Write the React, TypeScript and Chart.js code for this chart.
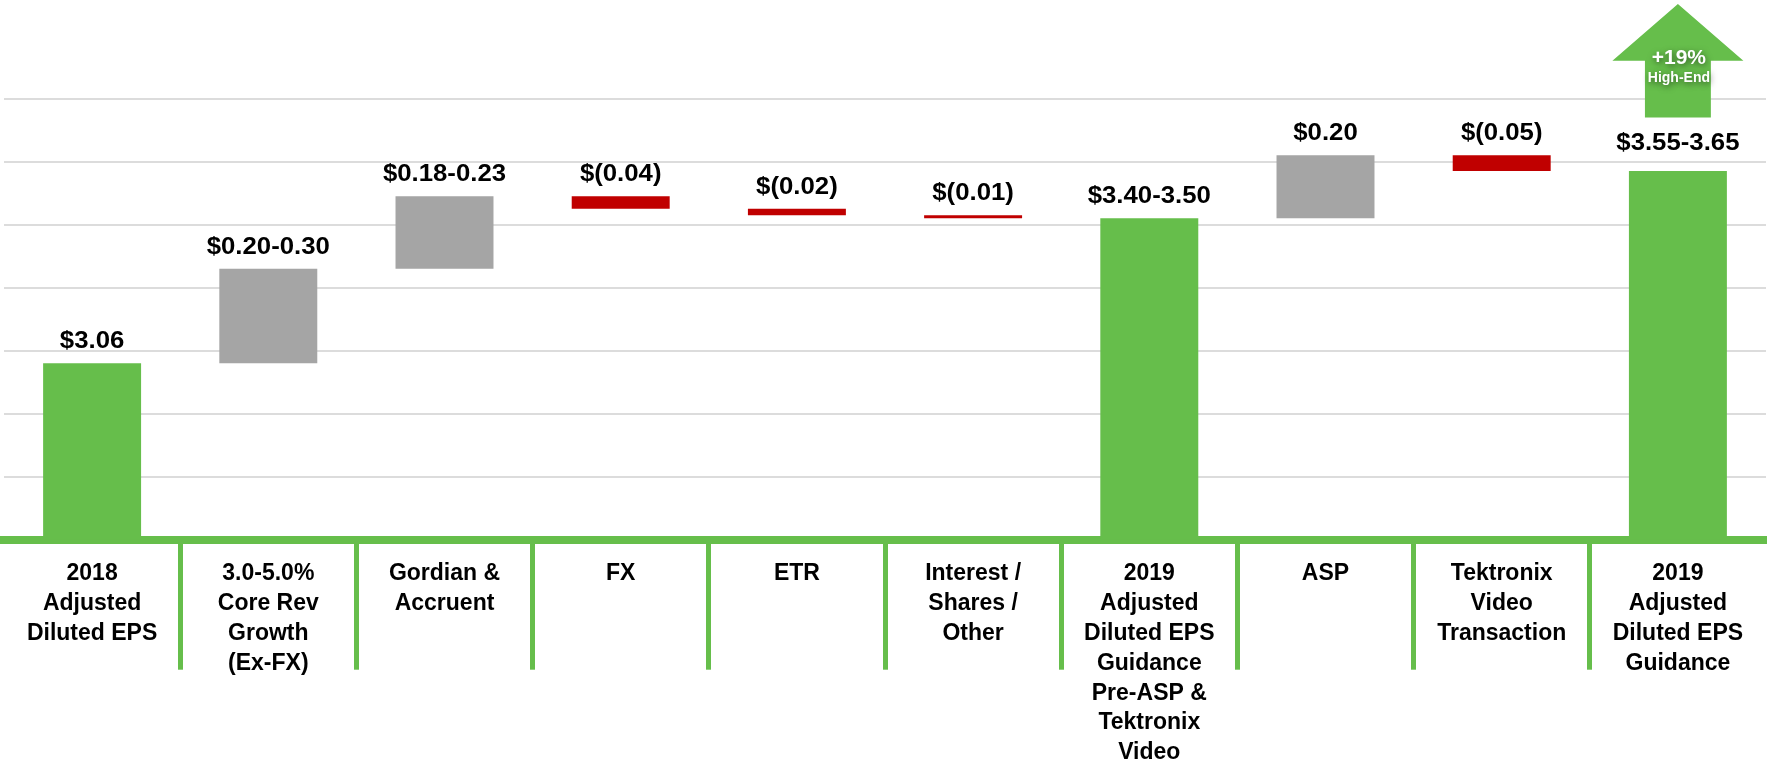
import React, { useEffect, useRef } from "react";
import { Chart, registerables } from "chart.js";

Chart.register(...registerables);

const categories: string[][] = [
  ["2018", "Adjusted", "Diluted EPS"],
  ["3.0-5.0%", "Core Rev", "Growth", "(Ex-FX)"],
  ["Gordian &", "Accruent"],
  ["FX"],
  ["ETR"],
  ["Interest /", "Shares /", "Other"],
  ["2019", "Adjusted", "Diluted EPS", "Guidance", "Pre-ASP &", "Tektronix", "Video"],
  ["ASP"],
  ["Tektronix", "Video", "Transaction"],
  ["2019", "Adjusted", "Diluted EPS", "Guidance"],
];

const barLow = [2.5, 3.06, 3.36, 3.55, 3.53, 3.52, 2.5, 3.52, 3.67, 2.5];
const barHigh = [3.06, 3.36, 3.59, 3.59, 3.55, 3.53, 3.52, 3.72, 3.72, 3.67];
const barKind = ["total", "up", "up", "down", "down", "down", "total", "up", "down", "total"];
const valueLabels = [
  "$3.06",
  "$0.20-0.30",
  "$0.18-0.23",
  "$(0.04)",
  "$(0.02)",
  "$(0.01)",
  "$3.40-3.50",
  "$0.20",
  "$(0.05)",
  "$3.55-3.65",
];
const gridValues = [2.7, 2.9, 3.1, 3.3, 3.5, 3.7, 3.9];
const axisMin = 2.5;
const axisMax = 4.2;
const arrowLines = ["+19%", "High-End"];
const arrowValues = { bottom: 3.84, headBase: 4.02, tip: 4.2 };

const GREEN = "#66BE4B";
const GRAY = "#A5A5A5";
const RED = "#C00000";
const FONT = "'Liberation Sans', Arial, Helvetica, sans-serif";

const kindColor: Record<string, string> = { total: GREEN, up: GRAY, down: RED };

const valueLabelPlugin = {
  id: "valueLabels",
  afterDatasetsDraw(chart: any) {
    const ctx = chart.ctx;
    const meta = chart.getDatasetMeta(0);
    ctx.save();
    ctx.fillStyle = "#000";
    ctx.font = `bold 23px ${FONT}`;
    ctx.textAlign = "center";
    ctx.textBaseline = "alphabetic";
    meta.data.forEach((el: any, i: number) => {
      const top = Math.min(el.y, el.base);
      const gap = i === meta.data.length - 1 ? 21 : 15;
      ctx.save();
      ctx.translate(el.x, top - gap);
      ctx.scale(1.12, 1);
      ctx.fillText(valueLabels[i], 0, 0);
      ctx.restore();
    });
    ctx.restore();
  },
};

const arrowPlugin = {
  id: "arrowNote",
  afterDatasetsDraw(chart: any) {
    const ctx = chart.ctx;
    const meta = chart.getDatasetMeta(0);
    const el: any = meta.data[meta.data.length - 1];
    const y = chart.scales.y;
    const cx = el.x;
    const w = el.width;
    const shaftHalf = (w * 0.673) / 2;
    const headHalf = (w * 1.337) / 2;
    const yb = y.getPixelForValue(arrowValues.bottom);
    const yh = y.getPixelForValue(arrowValues.headBase);
    const yt = y.getPixelForValue(arrowValues.tip);
    ctx.save();
    ctx.fillStyle = GREEN;
    ctx.beginPath();
    ctx.moveTo(cx - shaftHalf, yb);
    ctx.lineTo(cx - shaftHalf, yh);
    ctx.lineTo(cx - headHalf, yh);
    ctx.lineTo(cx, yt);
    ctx.lineTo(cx + headHalf, yh);
    ctx.lineTo(cx + shaftHalf, yh);
    ctx.lineTo(cx + shaftHalf, yb);
    ctx.closePath();
    ctx.fill();

    ctx.fillStyle = "#FFFFFF";
    ctx.textAlign = "center";
    ctx.textBaseline = "alphabetic";
    ctx.shadowColor = "rgba(0,0,0,0.55)";
    ctx.shadowBlur = 6;
    ctx.shadowOffsetX = 1;
    ctx.shadowOffsetY = 2;
    ctx.font = `bold 21px ${FONT}`;
    ctx.fillText(arrowLines[0], cx + 1, yh + 3);
    ctx.font = `bold 14px ${FONT}`;
    ctx.fillText(arrowLines[1], cx + 1, yh + 21);
    ctx.restore();
  },
};

export default function App() {
  const canvasRef = useRef<HTMLCanvasElement | null>(null);

  useEffect(() => {
    document.body.style.margin = "0";
    document.body.style.overflow = "hidden";
    const canvas = canvasRef.current;
    if (!canvas) return;

    const chart = new Chart(canvas, {
      type: "bar",
      data: {
        labels: categories,
        datasets: [
          {
            data: barLow.map((lo, i) => [lo, barHigh[i]]) as any,
            backgroundColor: barKind.map((k) => kindColor[k]),
            borderWidth: 0,
            barPercentage: 0.556,
            categoryPercentage: 1,
          },
        ],
      },
      options: {
        responsive: false,
        animation: false,
        events: [],
        layout: { padding: { left: 4, right: 1, top: 4, bottom: 0 } },
        plugins: {
          legend: { display: false },
          tooltip: { enabled: false },
          title: { display: false },
        },
        scales: {
          x: {
            offset: true,
            afterFit: (s: any) => {
              s.height = 227.3;
            },
            grid: {
              offset: true,
              drawOnChartArea: false,
              drawTicks: true,
              tickLength: 130,
              lineWidth: 5,
              color: (c: any) =>
                c.type !== "tick" || c.index === undefined || c.index === 0 || c.index >= categories.length
                  ? "rgba(0,0,0,0)"
                  : GREEN,
            },
            border: { display: true, color: GREEN, width: 8 },
            ticks: {
              autoSkip: false,
              maxRotation: 0,
              minRotation: 0,
              padding: -111,
              color: "#000",
              font: { family: FONT, size: 23, weight: "bold", lineHeight: 1.3 },
            },
          },
          y: {
            min: axisMin,
            max: axisMax,
            afterFit: (s: any) => {
              s.width = 0;
            },
            afterBuildTicks: (s: any) => {
              s.ticks = gridValues.map((v) => ({ value: v }));
            },
            grid: {
              drawTicks: false,
              color: "#DCDCDC",
              lineWidth: 2,
            },
            border: { display: false },
            ticks: { display: false },
          },
        },
      },
      plugins: [valueLabelPlugin, arrowPlugin],
    });

    return () => chart.destroy();
  }, []);

  return (
    <div style={{ width: 1767, height: 767, background: "#fff" }}>
      <canvas ref={canvasRef} width={1767} height={767} style={{ display: "block" }} />
    </div>
  );
}
